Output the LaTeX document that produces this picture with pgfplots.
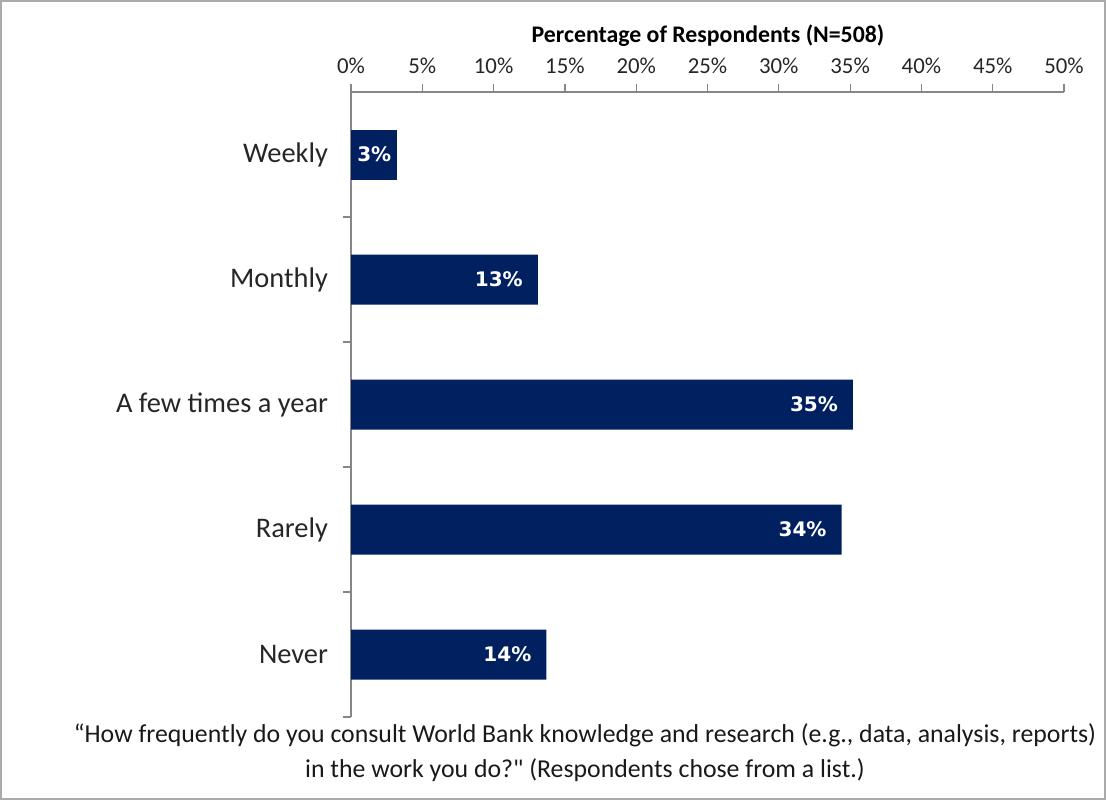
\documentclass[border=0pt]{standalone}
\usepackage{pgfplots}
\pgfplotsset{compat=1.18}
\usepackage{fontspec}
\setmainfont{Carlito}[Ligatures=TeXOff]
\newfontfamily\barfont{DejaVu Sans}
\definecolor{barblue}{RGB}{0,32,96}
\definecolor{axisgray}{RGB}{134,134,134}
\begin{document}
\begin{tikzpicture}
\useasboundingbox (0,0) rectangle (553pt,400pt);
\draw[axisgray!70, line width=0.6pt] (0.5pt,0.5pt) rectangle (552.5pt,399.5pt);
\begin{axis}[
  at={(175.5pt,41.5pt)}, anchor=south west,
  scale only axis, width=356.5pt, height=312.5pt,
  xbar, bar width=25pt, bar shift=0pt,
  xmin=0, xmax=50, ymin=-0.5, ymax=4.5,
  axis x line*=top, axis y line*=left,
  axis line style={axisgray, line width=0.6pt},
  tick align=outside,
  xtick={0,5,...,50},
  xticklabel={\pgfmathprintnumber{\tick}\%},
  /pgf/number format/assume math mode=true,
  xticklabel style={font=\fontsize{11.4}{13}\selectfont, text=black!85, yshift=1.5pt},
  major x tick style={axisgray, line width=0.6pt},
  major tick length=4pt,
  ytick={0,1,2,3,4},
  yticklabels={Never,Rarely,A few times a year,Monthly,Weekly},
  yticklabel style={font=\fontsize{14.2}{16}\selectfont, text=black!85, xshift=-4pt},
  major y tick style={draw=none},
  minor ytick={-0.5,0.5,1.5,2.5,3.5},
  minor y tick style={axisgray, line width=0.6pt},
  minor tick length=4pt,
  clip=false,
  point meta=explicit,
  nodes near coords={\pgfmathprintnumber{\pgfplotspointmeta}\%},
  every node near coord/.append style={text=white,
    font=\barfont\bfseries\fontsize{10}{12}\selectfont},
]
\addplot[fill=barblue, draw=none,
  every node near coord/.append style={anchor=east, xshift=-4pt}]
  table[meta=lab] {
  x    y  lab
  13.1 3  13
  35.2 2  35
  34.4 1  34
  13.7 0  14
};
\addplot[fill=barblue, draw=none,
  every node near coord/.append style={anchor=east, xshift=-0.5pt, inner sep=2pt}]
  table[meta=lab] {
  x    y  lab
  3.2  4  3
};
\end{axis}
\node[font=\bfseries\fontsize{11.9}{13}\selectfont] at (354pt,382pt) {Percentage of Respondents (N=508)};
\node[align=center, font=\fontsize{12.9}{17.5}\selectfont, text=black!90] at (292.5pt,23.75pt)
  {“How frequently do you consult World Bank knowledge and research (e.g., data, analysis, reports)\\
   in the work you do?" (Respondents chose from a list.)};
\end{tikzpicture}
\end{document}
